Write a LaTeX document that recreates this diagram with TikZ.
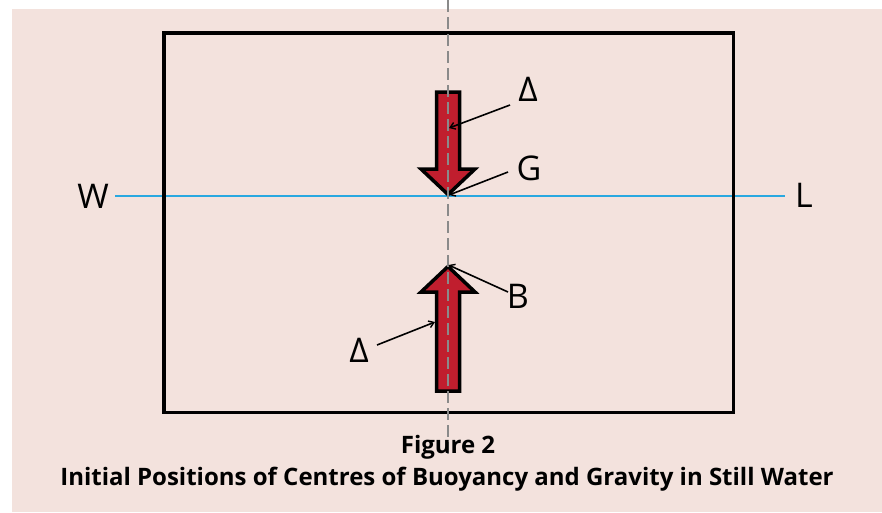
\documentclass[tikz,border=0pt]{standalone}
\usepackage{fontspec}
\setmainfont{Open Sans}
\usetikzlibrary{arrows.meta}
\definecolor{bgpink}{HTML}{F3E2DD}
\definecolor{arrowred}{HTML}{C01E2E}
\definecolor{wlblue}{HTML}{29A8E0}
\definecolor{axisgray}{HTML}{8A8A8A}
\tikzset{
  lbl/.style={font=\fontsize{34}{34}\selectfont, inner sep=0pt},
  leader/.style={line width=1.6pt, -{Straight Barb[length=5pt,width=7pt,line width=1.4pt]}},
  forcearrow/.style={fill=arrowred, draw=black, line width=3.5pt, line join=miter},
  caption/.style={font=\bfseries\fontsize{24}{24}\selectfont, inner sep=0pt},
}
\begin{document}
\begin{tikzpicture}[x=1pt,y=-1pt]
\useasboundingbox (0,0) rectangle (882,512);
\fill[white] (0,0) rectangle (882,512);
\fill[bgpink] (12,9) rectangle (882,512);
% waterline
\draw[wlblue, line width=2pt] (115,196) -- (785,196);
% hull rectangle
\draw[black, line width=3.5pt] (164,33) rectangle (733.5,412.5);
% force arrows
\draw[forcearrow] (436.5,92) -- (459.5,92) -- (459.5,169) -- (475,169) -- (448,194.5) -- (421,169) -- (436.5,169) -- cycle;
\draw[forcearrow] (436.5,391) -- (459.5,391) -- (459.5,292) -- (475,292) -- (448,266.5) -- (421,292) -- (436.5,292) -- cycle;
% centre line
\draw[axisgray, line width=1.6pt, dash pattern=on 12pt off 5pt] (448,0) -- (448,457);
% points
\coordinate (Gpt) at (449,195);
\coordinate (Bpt) at (448.5,265);
\coordinate (Dtop) at (449,128);
\coordinate (Dbot) at (435,322);
% labels
\node[lbl] (W) at (93,196) {W};
\node[lbl] (L) at (804,195) {L};
\node[lbl] (D1) at (528,89) {Δ};
\node[lbl] (G) at (529,168) {G};
\node[lbl] (B) at (518,296) {B};
\node[lbl] (D2) at (359,350) {Δ};
% leaders
\coordinate (D1s) at (510,105);
\coordinate (Gs) at (508,172);
\coordinate (Bs) at (508,292);
\coordinate (D2s) at (377,345);
\draw[leader] (D1s) -- (Dtop);
\draw[leader] (Gs) -- (Gpt);
\draw[leader] (Bs) -- (Bpt);
\draw[leader] (D2s) -- (Dbot);
% caption
\node[caption] (fig) at (448,447) {Figure 2};
\node[caption] (cap) at (447,479) {Initial Positions of Centres of Buoyancy and Gravity in Still Water};
\end{tikzpicture}
\end{document}
